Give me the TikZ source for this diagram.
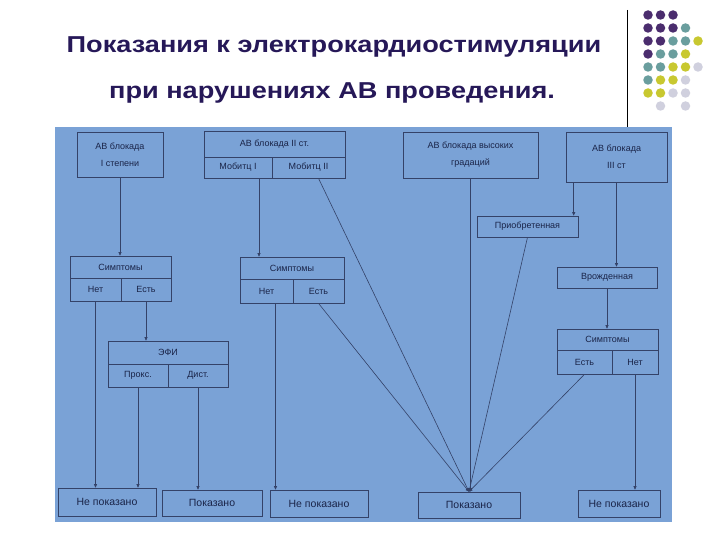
\documentclass[tikz,border=0pt]{standalone}
\usepackage{fontspec}
\setmainfont{Liberation Sans}
\usetikzlibrary{arrows.meta}
\definecolor{bg}{RGB}{122,162,214}
\definecolor{ln}{RGB}{52,66,104}
\definecolor{tx}{RGB}{26,36,72}
\definecolor{ttl}{RGB}{38,24,88}
\definecolor{dP}{RGB}{75,45,110}
\definecolor{dT}{RGB}{106,158,158}
\definecolor{dY}{RGB}{200,200,48}
\definecolor{dL}{RGB}{208,208,222}
\def\nodot{N}
\begin{document}
\begin{tikzpicture}[x=1pt,y=-1pt,
  cell/.style={draw=ln,line width=0.6pt,inner sep=0pt,font=\fontsize{9}{10}\selectfont,text=tx,align=center},
  big/.style={font=\fontsize{10.5}{12}\selectfont},
  con/.style={draw=ln,line width=0.6pt,-{Triangle[length=3.5pt,width=3pt]}},
  dot/.style={circle,inner sep=0pt,minimum size=9.5pt},
  ttlf/.style={font=\bfseries\fontsize{23}{26}\selectfont,text=ttl}]
\useasboundingbox (0,0) rectangle (720,540);
\fill[white] (0,0) rectangle (720,540);
% title
\node[ttlf] (t1) at (334,47) {\scalebox{1.18}[1]{Показания к электрокардиостимуляции}};
\node[ttlf] (t2) at (332,93) {\scalebox{1.18}[1]{при нарушениях АВ проведения.}};
\draw[black,line width=0.8pt] (627,10) -- (627,130);
% dots
\foreach \r/\row in {0/{P,P,P,N,N},1/{P,P,P,T,N},2/{P,P,T,T,Y},3/{P,T,T,Y,N},4/{T,T,Y,Y,L},5/{T,Y,Y,L,N},6/{Y,Y,L,L,N},7/{N,L,N,L,N}}{
  \foreach \c [count=\i from 0] in \row {
    \ifx\c\nodot\else
      \node[dot,fill=d\c] (d\r\i) at (648+12.5*\i,15+13*\r) {};
    \fi
  }
}
% background
\fill[bg] (55,127) rectangle (672,522);
% boxes
\newcommand{\cellat}[7][]{\node[cell,#1,minimum width={#4-#3},minimum height={#6-#5}] (#2) at ({(#3+#4)/2},{(#5+#6)/2}) {#7};}
\cellat{A1}{77}{163}{132}{177}{АВ блокада\\[7pt]I степени}
\cellat{A2t}{204}{345}{131}{157}{АВ блокада II ст.}
\cellat{A2a}{204}{272}{157}{178}{Мобитц I}
\cellat{A2b}{272}{345}{157}{178}{Мобитц II}
\cellat{A3}{403}{538}{132}{178}{АВ блокада высоких\\[7pt]градаций}
\cellat{A4}{566}{667}{132}{182}{АВ блокада\\[7pt]III ст}
\cellat{Pr}{477}{578}{216}{237}{Приобретенная}
\cellat{Vr}{557}{657}{267}{288}{Врожденная}
\cellat{S1t}{70}{171}{256}{278}{Симптомы}
\cellat{S1n}{70}{121}{278}{301}{Нет}
\cellat{S1e}{121}{171}{278}{301}{Есть}
\cellat{S2t}{240}{344}{257}{279}{Симптомы}
\cellat{S2n}{240}{293}{279}{303}{Нет}
\cellat{S2e}{293}{344}{279}{303}{Есть}
\cellat{S3t}{557}{658}{329}{350}{Симптомы}
\cellat{S3e}{557}{612}{350}{374}{Есть}
\cellat{S3n}{612}{658}{350}{374}{Нет}
\cellat{Et}{108}{228}{341}{364}{ЭФИ}
\cellat{Ep}{108}{168}{364}{387}{Прокс.}
\cellat{Ed}{168}{228}{364}{387}{Дист.}
\cellat[big]{B1}{58}{156}{488}{516}{Не показано}
\cellat[big]{B2}{162}{262}{490}{516}{Показано}
\cellat[big]{B3}{270}{368}{490}{517}{Не показано}
\cellat[big]{B4}{418}{520}{492}{518}{Показано}
\cellat[big]{B5}{578}{660}{490}{517}{Не показано}
% connectors
\draw[con] (A1.south) -- (A1.south |- S1t.north);
\draw[con] ([xshift=21pt]A2a.south) -- ([xshift=21pt]A2a.south |- S2t.north);
\draw[con] (S1n.south) -- (S1n.south |- B1.north);
\draw[con] (S1e.south) -- (S1e.south |- Et.north);
\draw[con] (Ep.south) -- (Ep.south |- B1.north);
\draw[con] (Ed.south) -- (Ed.south |- B2.north);
\draw[con] ([xshift=9pt]S2n.south) -- ([xshift=9pt]S2n.south |- B3.north);
\draw[con] ([xshift=10pt]A2b.south) -- (B4.north);
\draw[con] (S2e.south) -- (B4.north);
\draw[con] (A3.south) -- (A3.south |- B4.north);
\draw[con] (Pr.south) -- (B4.north);
\draw[con] (S3e.south) -- (B4.north);
\draw[con] (S3n.south) -- (S3n.south |- B5.north);
\draw[con] ([xshift=8pt]A4.south west) -- ([xshift=8pt]A4.south west |- Pr.north);
\draw[con] (A4.south) -- (A4.south |- Vr.north);
\draw[con] (Vr.south) -- (Vr.south |- S3t.north);
\end{tikzpicture}
\end{document}
